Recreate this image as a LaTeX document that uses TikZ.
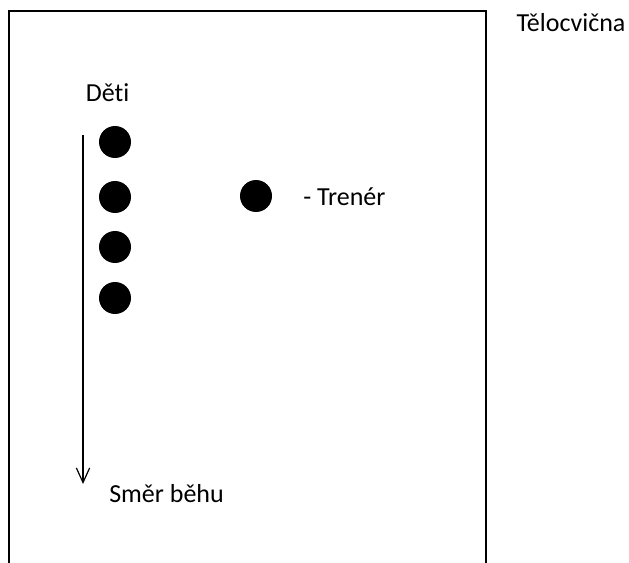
\documentclass[tikz,border=0pt]{standalone}
\usepackage{fontspec}
\setmainfont[Ligatures=NoCommon]{Carlito}
\usetikzlibrary{arrows.meta}
\begin{document}
\begin{tikzpicture}[x=0.75pt,y=-0.75pt,
  wall/.style={line width=1.5pt},
  person/.style={circle,fill=black,minimum size=24pt,inner sep=0pt},
  lbl/.style={font=\fontsize{19.5}{22}\selectfont,inner sep=0pt},
  runarrow/.style={line width=0.9pt,-{Straight Barb[length=11pt,width=10pt,line width=0.9pt]}}]
\useasboundingbox (0,0) rectangle (629,563);
% gym walls (open towards the bottom)
\coordinate (bl) at (8.5,563);
\coordinate (tl) at (8.5,11.5);
\coordinate (tr) at (486,11.5);
\coordinate (br) at (486,563);
\draw[wall] (bl) -- (tl) -- (tr) -- (br);
\node[lbl] (gym) at (571,23) {Tělocvična};
% children
\node[lbl] (kids) at (107.5,93) {Děti};
\node[person] (c1) at (115,142) {};
\node[person] (c2) at (115,197) {};
\node[person] (c3) at (115,247) {};
\node[person] (c4) at (115,298) {};
% coach
\node[person] (coach) at (256,196) {};
\node[lbl,anchor=west] (coachlbl) at (303,197) {- Trenér};
% running direction
\coordinate (astart) at (83,135);
\coordinate (aend) at (83,484);
\draw[runarrow] (astart) -- (aend);
\node[lbl,anchor=west] (dir) at (109,494) {Směr běhu};
\end{tikzpicture}
\end{document}
